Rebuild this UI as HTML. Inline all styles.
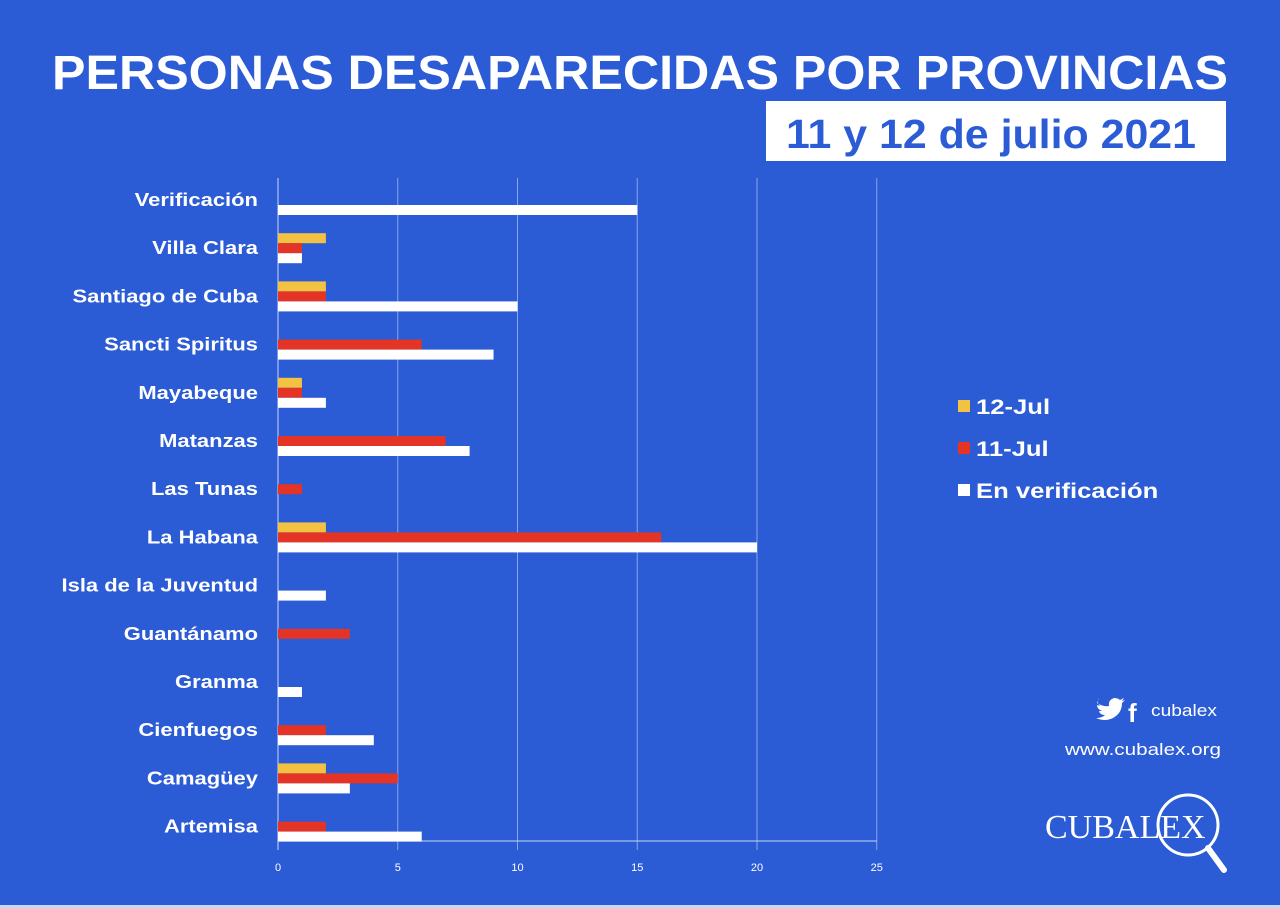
<!DOCTYPE html>
<html><head><meta charset="utf-8">
<style>
html,body{margin:0;padding:0;background:#2b5bd5;}
svg{display:block;font-family:"Liberation Sans",sans-serif;}
</style></head>
<body>
<svg id="chart" width="1280" height="908" viewBox="0 0 1280 908">
  <rect width="1280" height="908" fill="#2b5bd5"/>
  <rect x="0" y="905" width="1280" height="3" fill="#c9d6f5"/>
  <text x="640" y="89" text-anchor="middle" fill="#fff" font-size="48" font-weight="bold" textLength="1176" lengthAdjust="spacingAndGlyphs">PERSONAS DESAPARECIDAS POR PROVINCIAS</text>
  <rect x="766" y="101" width="460" height="60" fill="#fff"/>
  <text x="991" y="148" text-anchor="middle" fill="#2b5bd5" font-size="41" font-weight="bold" textLength="410" lengthAdjust="spacingAndGlyphs">11 y 12 de julio 2021</text>
  <g id="grid"></g>
  <g id="bars"></g>
  <g id="labels"></g>
  <g id="legend">
    <rect x="958" y="400" width="12" height="12" fill="#f4c242"/>
    <text class="wide" x="976" y="414" fill="#fff" font-size="21" font-weight="bold">12-Jul</text>
    <rect x="958" y="442" width="12" height="12" fill="#e33425"/>
    <text class="wide" x="976" y="456" fill="#fff" font-size="21" font-weight="bold">11-Jul</text>
    <rect x="958" y="484" width="12" height="12" fill="#fff"/>
    <text class="wide" x="976" y="498" fill="#fff" font-size="21" font-weight="bold">En verificación</text>
  </g>
  <g>
    <path d="M1097 703 q6 4 12 3 q-1-6 5-8 q4 0 6 2 l4-2 l-2 3 l3-1 l-3 3 q0 10-9 15 q-8 4-17 0 q6 0 9-3 q-5 0-6-4 h3 q-5-2-5-6 l3 1 q-4-4-1-8z" fill="#fff"/>
    <text x="1128" y="722" fill="#fff" font-size="26" font-weight="bold">f</text>
    <text x="1151" y="716" fill="#fff" font-size="17" textLength="66" lengthAdjust="spacingAndGlyphs">cubalex</text>
    <text x="1221" y="755" text-anchor="end" fill="#fff" font-size="17" textLength="156" lengthAdjust="spacingAndGlyphs">www.cubalex.org</text>
  </g>
  <g>
    <text x="1045" y="838" fill="#fff" font-family="Liberation Serif,serif" font-size="34">CUBALEX</text>
    <circle cx="1188" cy="825" r="30" fill="none" stroke="#fff" stroke-width="3"/>
    <line x1="1208" y1="848" x2="1224" y2="870" stroke="#fff" stroke-width="6" stroke-linecap="round"/>
  </g>
</svg>
<script>
const categories = ["Verificación","Villa Clara","Santiago de Cuba","Sancti Spiritus","Mayabeque","Matanzas","Las Tunas","La Habana","Isla de la Juventud","Guantánamo","Granma","Cienfuegos","Camagüey","Artemisa"];
const jul12 = [0,2,2,0,1,0,0,2,0,0,0,0,2,0];
const jul11 = [0,1,2,6,1,7,1,16,0,3,0,2,5,2];
const verif = [15,1,10,9,2,8,0,20,2,0,1,4,3,6];
const ticks = [0,5,10,15,20,25];

const NS = "http://www.w3.org/2000/svg";
const x0 = 278, pxPerUnit = 23.95;
const xScale = v => x0 + v * pxPerUnit;
const rowTop = 200, rowStep = 48.2, barH = 10;
const yScale = i => rowTop + i * rowStep;

function mk(tag, attrs, parent) {
  const el = document.createElementNS(NS, tag);
  for (const k in attrs) el.setAttribute(k, attrs[k]);
  parent.appendChild(el);
  return el;
}
const grid = document.getElementById("grid");
const bars = document.getElementById("bars");
const labels = document.getElementById("labels");

ticks.forEach(t => {
  const l = mk("line", {x1: xScale(t), x2: xScale(t), y1: 178, y2: 850, stroke: t === 0 ? "#c9d6f5" : "#8aa6ea", "stroke-width": 1}, grid);
  
  
  const tx = mk("text", {x: xScale(t), y: 871, "text-anchor": "middle", fill: "#fff", "font-size": 11}, grid);
  tx.textContent = t;
  
  
});
const ax = mk("line", {x1: x0, x2: xScale(25), y1: 841, y2: 841, stroke: "#c9d6f5", "stroke-width": 1}, grid);



const series = [[jul12, "#f4c242", -1], [jul11, "#e33425", 0], [verif, "#ffffff", 1]];
categories.forEach((c, i) => {
  const cy = yScale(i);
  const t = mk("text", {x: 258, y: cy + 6, "text-anchor": "end", fill: "#fff", "font-size": 18, "font-weight": "bold"}, labels);
  t.textContent = c;
  
  
  t.classList.add("wide");
  series.forEach(([arr, col, off]) => {
    const v = arr[i];
    if (v <= 0) return;
    const r = mk("rect", {x: x0, y: cy + off * barH - barH / 2, width: xScale(v) - x0, height: barH, fill: col}, bars);
    
    
  });
});
document.querySelectorAll("text.wide").forEach(t => {
  const w = t.getComputedTextLength();
  t.setAttribute("textLength", (w * 1.22).toFixed(1));
  t.setAttribute("lengthAdjust", "spacingAndGlyphs");
});
</script>
</body></html>
